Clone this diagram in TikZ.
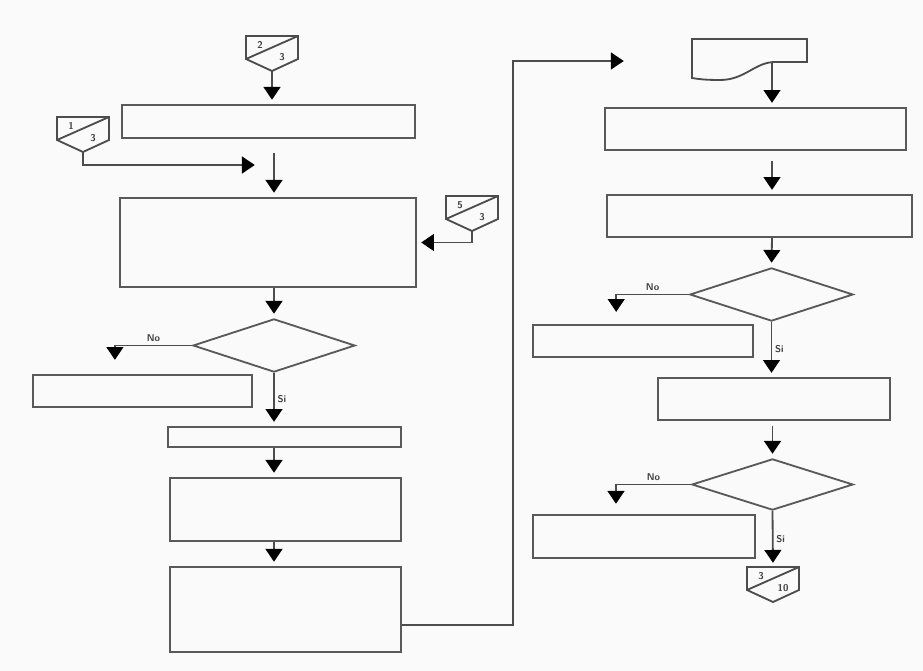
\documentclass[tikz,border=0pt]{standalone}
\usetikzlibrary{shapes.geometric,arrows.meta}
\tikzset{box node/.style={rectangle,draw=black!65,line width=1.3pt,inner sep=0pt},
         dec node/.style={diamond,draw=black!65,line width=1.3pt,inner sep=0pt},
         link/.style={draw=black!70,line width=1.3pt},
         flow/.style={link,shorten >=3pt,-{Triangle[width=0.42cm,length=0.32cm,color=black]}},
         tag/.style={font=\sffamily\bfseries\scriptsize,text=black!75,inner sep=2pt},
         num/.style={font=\sffamily\bfseries\scriptsize,text=black!75,inner sep=0pt},
            }
% off-page connector: name, centre x, top y, upper and lower number
\newcommand{\offpage}[5]{%
  \draw[link] (#2-26,#3) -- (#2+26,#3) -- (#2+26,#3+23) -- (#2,#3+35) -- (#2-26,#3+23) -- cycle;
  \draw[link] (#2-26,#3+23) -- (#2+26,#3);
  \node[num] (#1up) at (#2-12,#3+9) {#4};
  \node[num] (#1down) at (#2+10,#3+21) {#5};
  \coordinate (#1) at (#2,#3+35);
  \coordinate (#1top) at (#2,#3);}

\begin{document}
\begin{tikzpicture}[x=0.025cm,y=-0.025cm]
    \fill[black!2] (0,0) rectangle (923,671);

    % left column
    \offpage{c23}{272}{36}{2}{3}
    \offpage{c13}{83}{117}{1}{3}
    \offpage{c53}{472}{196}{5}{3}
    \node[box node,minimum width=7.33cm,minimum height=0.83cm] (b1) at (268.5,121.5) {};
    \node[box node,minimum width=7.4cm,minimum height=2.23cm] (b2) at (268,242.5) {};
    \node[dec node,minimum width=4.05cm,minimum height=1.33cm] (d1) at (274,345.5) {};
    \node[box node,minimum width=5.48cm,minimum height=0.8cm] (bno1) at (142.5,391) {};
    \node[box node,minimum width=5.83cm,minimum height=0.5cm] (b3) at (284.5,437) {};
    \node[box node,minimum width=5.78cm,minimum height=1.58cm] (b4) at (285.5,509.5) {};
    \node[box node,minimum width=5.78cm,minimum height=2.13cm] (b5) at (285.5,609.5) {};
    \coordinate (j1) at (259,165);

    % right column
    \draw[link] (692,39) -- (807,39) -- (807,62) -- (775,62)
        .. controls (755,62) and (745,80) .. (720,80)
        .. controls (705,80) and (698,79) .. (692,78) -- cycle;
    \coordinate (doc) at (772,63);
    \coordinate (entry) at (628,61);
    \node[box node,minimum width=7.53cm,minimum height=1.05cm] (r1) at (755.5,129) {};
    \node[box node,minimum width=7.63cm,minimum height=1.05cm] (r2) at (759.5,216) {};
    \node[dec node,minimum width=4.08cm,minimum height=1.33cm] (d2) at (771.5,294.5) {};
    \node[box node,minimum width=5.5cm,minimum height=0.8cm] (rno1) at (643,341) {};
    \node[box node,minimum width=5.8cm,minimum height=1.05cm] (r3) at (774,399) {};
    \node[dec node,minimum width=4.03cm,minimum height=1.28cm] (d3) at (772.5,484.5) {};
    \node[box node,minimum width=5.55cm,minimum height=1.08cm] (rno2) at (644,536.5) {};
    \offpage{c310}{773}{567}{3}{10}

    % connections
    \draw[flow] (c23) -- (c23 |- b1.north);
    \draw[flow] (c13) |- (j1);
    \draw[flow] (c53) |- (b2.east);
    \draw[flow] ([yshift=-0.35cm]b1.south -| d1) -- (b2.north -| d1);
    \draw[flow] (b2.south -| d1) -- (d1.north);
    \draw[flow] (d1.west) -| node[tag,above,pos=0.25] {No} ([xshift=-0.69cm,yshift=0.25cm]bno1.north);
    \draw[flow] (d1.south) -- node[tag,right] {Si} (b3.north -| d1.south);
    \draw[flow] (b3.south -| d1) -- (b4.north -| d1);
    \draw[flow] (b4.south -| d1) -- (b5.north -| d1);
    \draw[flow] ([yshift=-0.38cm]b5.east) -- ++(111,0) |- (entry);

    \draw[flow] (doc) -- (doc |- r1.north);
    \draw[flow] ([yshift=-0.25cm]r1.south -| doc) -- (r2.north -| doc);
    \draw[flow] (r2.south -| doc) -- (d2.north);
    \draw[flow] (d2.west) -| node[tag,above,pos=0.25] {No} ([xshift=-0.67cm,yshift=0.2cm]rno1.north);
    \draw[flow] (d2.south) -- node[tag,right] {Si} (r3.north -| d2.south);
    \draw[flow] ([yshift=-0.12cm]r3.south -| d3) -- (d3.north);
    \draw[flow] (d3.west) -| node[tag,above,pos=0.25] {No} ([xshift=-0.7cm,yshift=0.15cm]rno2.north);
    \draw[flow] (d3.south) -- node[tag,right] {Si} (c310top);
\end{tikzpicture}
\end{document}
